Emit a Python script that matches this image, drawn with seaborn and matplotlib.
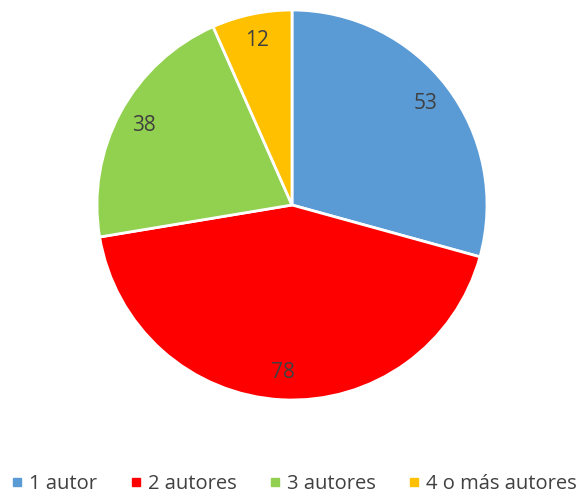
import matplotlib
matplotlib.use("Agg")
import matplotlib.pyplot as plt
from matplotlib.lines import Line2D
import seaborn as sns

categorias = ["1 autor", "2 autores", "3 autores", "4 o más autores"]
valores = [53, 78, 38, 12]
colores = ["#5B9BD5", "#FF0000", "#92D050", "#FFC000"]

sns.set_style("white")
plt.rcParams['font.family'] = ['Open Sans', 'DejaVu Sans']

fig = plt.figure(figsize=(5.84, 4.95), dpi=100)
ax = fig.add_axes([(292 - 195) / 584, (495 - 205 - 195) / 495, 390 / 584, 390 / 495])

wedges, textos, autotextos = ax.pie(
    valores, colors=colores, startangle=90, counterclock=False,
    autopct=lambda p: "{:.0f}".format(p * sum(valores) / 100),
    pctdistance=0.86,
    wedgeprops={'edgecolor': 'white', 'linewidth': 2},
    textprops={'color': '#404040', 'fontsize': 15},
)
ax.set_xlim(-1, 1)
ax.set_ylim(-1, 1)
ax.set_aspect('equal')

handles = [Line2D([0], [0], marker='s', linestyle='', markersize=6,
                  markerfacecolor=c, markeredgecolor=c) for c in colores]
fig.legend(handles, categorias, loc='center', bbox_to_anchor=(0.5, 1 - 484 / 495),
           ncol=4, frameon=False, fontsize=14.5, labelcolor='#404040',
           handletextpad=0.1, columnspacing=1.4, handlelength=1.0)

fig.savefig("out.png", dpi=100)
